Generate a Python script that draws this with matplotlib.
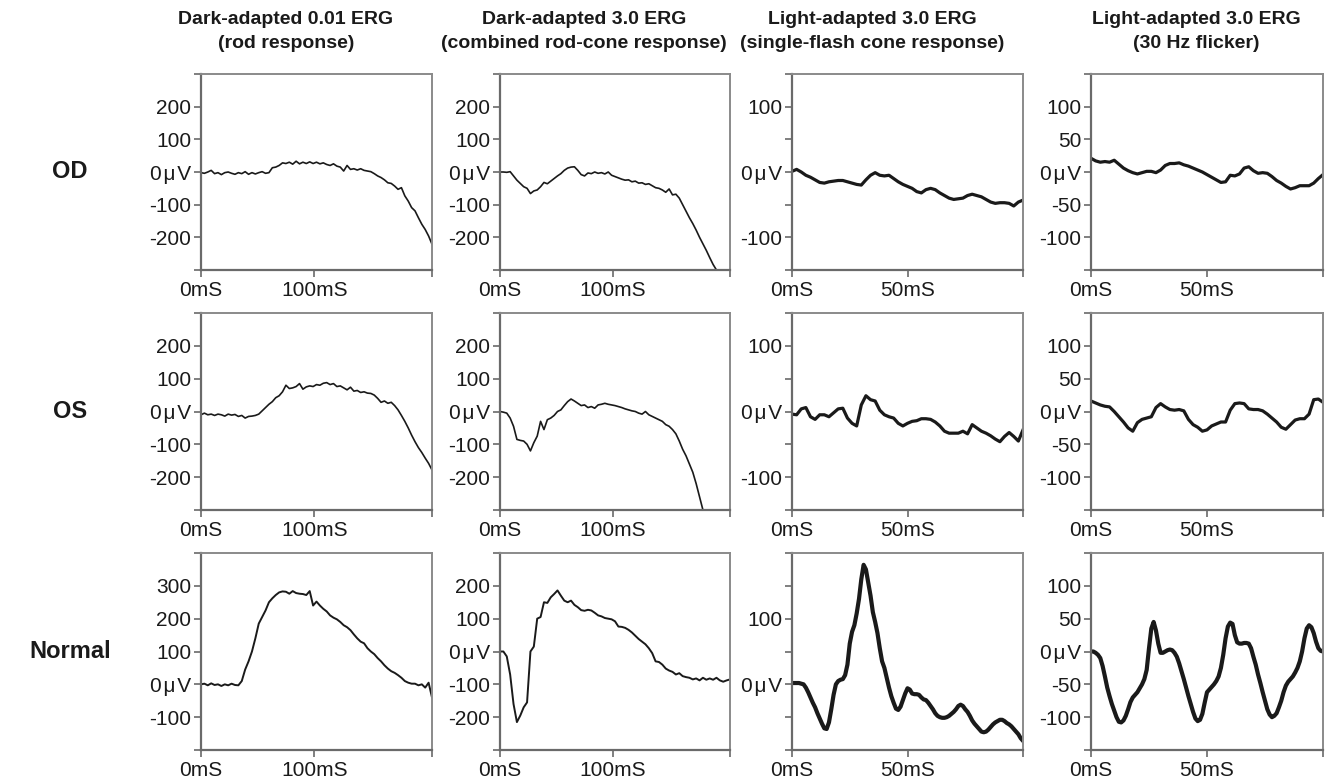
import numpy as np
import matplotlib
matplotlib.use("Agg")
import matplotlib.pyplot as plt

plt.rcParams['font.family'] = ['Liberation Sans', 'DejaVu Sans']

# ---------------- data ----------------
col_titles = [("Dark-adapted 0.01 ERG", "(rod response)"),
              ("Dark-adapted 3.0 ERG", "(combined rod-cone response)"),
              ("Light-adapted 3.0 ERG", "(single-flash cone response)"),
              ("Light-adapted 3.0 ERG", "(30 Hz flicker)")]
row_labels = ["OD", "OS", "Normal"]

step_slow = 3   # ms sampling for dark-adapted traces
step_fast = 2   # ms sampling for light-adapted traces (OD/OS)
step_fine = 1   # ms sampling for light-adapted normal traces

# OD
od_rod = [-2, -4, 0, 5, -5, -2, -8, -2, 0, -4, -7, -2, -5, 1, -7, -2, -6, -2, 1, -4,
          -2, 13, 15, 20, 28, 26, 30, 24, 33, 25, 30, 26, 31, 26, 30, 25, 28, 23, 20, 25,
          18, 15, 3, 20, 8, 10, 6, 10, 5, 3, 1, -5, -12, -17, -24, -33, -35, -43, -53, -48,
          -73, -89, -109, -119, -140, -160, -176, -196, -221]
od_comb = [0, 0, -1, 1, -12, -25, -35, -45, -50, -66, -58, -55, -45, -32, -36, -28, -20, -12, -5, 5,
           12, 15, 16, 5, -8, -12, -3, -5, 0, -4, -2, -6, 0, -10, -14, -18, -22, -25, -24, -30,
           -28, -34, -33, -38, -36, -42, -48, -50, -55, -62, -52, -70, -68, -80, -100, -120, -140, -158, -178, -200,
           -220, -240, -262, -283, -300, -300, -302, -300, -302]
od_cone = [1, 4, 0, -5, -8, -12, -16, -17, -15, -14, -13, -13, -15, -17, -19, -20, -12, -5, -1, -5,
           -6, -5, -10, -15, -19, -22, -25, -30, -32, -27, -25, -27, -32, -36, -40, -42, -41, -40, -36, -34,
           -36, -38, -42, -46, -48, -47, -47, -48, -52, -46, -43]
od_flicker = [21, 17, 15, 16, 15, 18, 12, 6, 2, -1, -3, -1, 1, 1, -1, 3, 10, 13, 13, 14,
              11, 9, 6, 3, 0, -4, -8, -12, -16, -15, -5, -6, -3, 6, 8, 2, -2, -1, -2, -7,
              -13, -17, -22, -26, -24, -21, -21, -21, -17, -10, -4]

# OS
os_rod = [-10, -5, -10, -8, -12, -8, -10, -14, -8, -11, -9, -15, -12, -20, -15, -14, -12, -8, 2, 12,
          22, 30, 42, 48, 60, 80, 70, 72, 76, 85, 68, 75, 78, 76, 82, 80, 86, 88, 82, 85,
          76, 78, 72, 66, 74, 62, 64, 58, 60, 56, 55, 50, 40, 28, 32, 25, 28, 18, 5, -12,
          -30, -50, -72, -92, -110, -125, -142, -158, -178]
os_comb = [0, -2, -5, -20, -45, -85, -88, -90, -100, -120, -95, -75, -30, -55, -25, -20, -12, 0, 5, 18,
           30, 38, 32, 25, 18, 20, 12, 15, 10, 20, 22, 25, 22, 20, 18, 15, 12, 8, 5, 2,
           0, -5, -8, 0, -10, -15, -20, -25, -30, -40, -45, -55, -68, -90, -115, -135, -160, -185, -220, -260,
           -300, -340, -380]
os_cone = [-4, -5, 4, 6, -8, -12, -5, -5, -8, -2, 4, 5, -10, -18, -22, 10, 24, 18, 16, 2,
           -5, -8, -10, -18, -22, -18, -15, -14, -11, -11, -12, -16, -22, -30, -33, -33, -33, -30, -34, -20,
           -25, -30, -33, -37, -42, -46, -38, -32, -38, -45, -28]
os_flicker = [16, 13, 10, 8, 7, 0, -8, -16, -25, -30, -17, -12, -10, -8, 6, 12, 7, 3, 2, 3,
              1, -12, -20, -24, -30, -28, -22, -19, -16, -16, 2, 12, 13, 12, 4, 3, 3, 1, -4, -10,
              -16, -24, -27, -20, -13, -11, -11, -4, 18, 19, 14]

# Normal
nl_rod = [0, 2, -3, 3, -2, 0, -5, 0, -3, 2, -2, -3, 10, 45, 70, 100, 140, 185, 205, 225,
          250, 262, 272, 280, 283, 282, 276, 284, 278, 276, 275, 272, 284, 240, 252, 240, 230, 222, 210, 203,
          198, 190, 180, 174, 165, 152, 140, 130, 125, 110, 100, 92, 80, 70, 58, 48, 40, 35, 28, 20,
          10, 5, 2, 2, -3, 0, -10, 5, -40]
nl_comb = [0, 0, -15, -70, -160, -215, -195, -170, -155, 0, 15, 100, 105, 150, 148, 165, 175, 186, 170, 155,
           150, 155, 142, 135, 126, 124, 127, 125, 118, 110, 107, 102, 100, 98, 92, 76, 75, 72, 66, 58,
           48, 38, 30, 22, 10, -5, -30, -32, -40, -52, -58, -62, -70, -66, -75, -78, -80, -85, -82, -88,
           -80, -86, -82, -86, -80, -88, -92, -88, -85]
nl_cone = [2, 2, 2, 2, 1, 0, -5, -12, -20, -28, -35, -44, -52, -60, -67, -68, -58, -38, -16, 0,
           5, 7, 8, 14, 30, 62, 80, 90, 108, 130, 160, 182, 175, 155, 135, 110, 95, 78, 55, 35,
           25, 10, -5, -18, -28, -37, -39, -34, -24, -14, -6, -8, -14, -15, -15, -16, -20, -23, -24, -28,
           -33, -38, -44, -48, -50, -51, -51, -50, -48, -45, -42, -38, -33, -31, -33, -38, -42, -48, -55, -60,
           -64, -68, -72, -73, -72, -69, -65, -61, -58, -56, -54, -54, -56, -59, -61, -64, -68, -72, -76, -82,
           -86]
nl_flicker = [0, 0, -2, -5, -10, -22, -38, -55, -68, -80, -90, -100, -107, -108, -105, -98, -88, -77, -70, -66,
              -62, -56, -50, -42, -28, 5, 35, 45, 32, 12, -2, -2, 0, 2, 3, 2, -2, -8, -18, -30,
              -42, -55, -68, -80, -92, -102, -106, -104, -95, -78, -62, -58, -54, -50, -45, -38, -25, -5, 20, 38,
              44, 42, 25, 14, 12, 12, 13, 13, 12, 5, -8, -20, -35, -48, -62, -75, -88, -96, -100, -98,
              -94, -85, -75, -62, -52, -46, -42, -38, -32, -25, -15, 0, 20, 35, 40, 37, 28, 15, 5, 1,
              0]

traces = [[(od_rod, step_slow), (od_comb, step_slow), (od_cone, step_fast), (od_flicker, step_fast)],
          [(os_rod, step_slow), (os_comb, step_slow), (os_cone, step_fast), (os_flicker, step_fast)],
          [(nl_rod, step_slow), (nl_comb, step_slow), (nl_cone, step_fine), (nl_flicker, step_fine)]]

# axis settings
zero = "0\u200a\u03bc\u200aV"
xlims = [204, 204, 100, 100]
xticks = [[0, 100, 204], [0, 100, 204], [0, 50, 100], [0, 50, 100]]
xticklabels = [["0mS", "100mS", ""], ["0mS", "100mS", ""], ["0mS", "50mS", ""], ["0mS", "50mS", ""]]

big_ticks = [-300, -200, -100, 0, 100, 200, 300]
big_lbls = ["", "-200", "-100", zero, "100", "200", ""]
cone_ticks = [-150, -100, -50, 0, 50, 100, 150]
cone_lbls = ["", "-100", "", zero, "", "100", ""]
flk_ticks = [-150, -100, -50, 0, 50, 100, 150]
flk_lbls = ["", "-100", "-50", zero, "50", "100", ""]
nrod_ticks = [-200, -100, 0, 100, 200, 300, 400]
nrod_lbls = ["", "-100", zero, "100", "200", "300", ""]
ncone_ticks = [-100, -50, 0, 50, 100, 150, 200]
ncone_lbls = ["", "", zero, "", "100", "", ""]

yspec = [[(big_ticks, big_lbls), (big_ticks, big_lbls), (cone_ticks, cone_lbls), (flk_ticks, flk_lbls)],
         [(big_ticks, big_lbls), (big_ticks, big_lbls), (cone_ticks, cone_lbls), (flk_ticks, flk_lbls)],
         [(nrod_ticks, nrod_lbls), (big_ticks, big_lbls), (ncone_ticks, ncone_lbls), (flk_ticks, flk_lbls)]]

# ---------------- layout ----------------
W, H = 1325, 780
fig = plt.figure(figsize=(W / 100, H / 100), dpi=100)

lefts = [201, 500, 792, 1091]
widths = [231, 230, 231, 232]
tops = [74, 313, 553]
heights = [196, 197, 197]

title_cx = [286, 584, 872, 1196]
lws = [[1.2, 1.2, 2.3, 2.3], [1.2, 1.2, 2.3, 2.3], [1.4, 1.4, 3.0, 3.0]]
txt = '#1a1a1a'

for r in range(3):
    for c in range(4):
        ax = fig.add_axes([lefts[c] / W, 1 - (tops[r] + heights[r]) / H,
                           widths[c] / W, heights[r] / H])
        vals, step = traces[r][c]
        t = np.arange(len(vals)) * step
        ax.plot(t, vals, color='#1a1a1a', lw=lws[r][c], solid_joinstyle='round')
        ax.set_xlim(0, xlims[c])
        yt, yl = yspec[r][c]
        ax.set_ylim(yt[0], yt[-1])
        ax.set_yticks(yt)
        ax.set_yticklabels(yl)
        ax.set_xticks(xticks[c])
        ax.set_xticklabels(xticklabels[c])
        for side in ['left', 'bottom']:
            ax.spines[side].set_color('#6a6a6a')
            ax.spines[side].set_linewidth(1.6)
        for side in ['top', 'right']:
            ax.spines[side].set_color('#8a8a8a')
            ax.spines[side].set_linewidth(1.4)
        ax.tick_params(axis='both', direction='out', length=5, width=1.2,
                       color='#6a6a6a', labelsize=15, labelcolor=txt, pad=2)
        ax.tick_params(axis='x', pad=3)

for c in range(4):
    fig.text(title_cx[c] / W, 1 - 20 / H, col_titles[c][0], ha='center', va='center',
             fontsize=14, fontweight='bold', color=txt)
    fig.text(title_cx[c] / W, 1 - 44 / H, col_titles[c][1], ha='center', va='center',
             fontsize=14, fontweight='bold', color=txt)

for r in range(3):
    fig.text(70 / W, 1 - (tops[r] + heights[r] / 2) / H, row_labels[r], ha='center',
             va='center', fontsize=17, fontweight='bold', color=txt)

fig.savefig("out.png", dpi=100)
